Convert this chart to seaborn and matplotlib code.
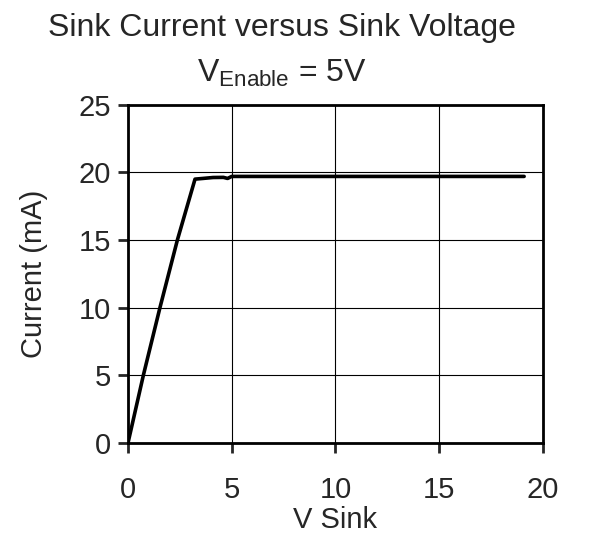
import pandas as pd
import seaborn as sns
import matplotlib.pyplot as plt

# Values
v_sink = [0, 0.74, 1.54, 2.38, 3.23, 3.6, 4.1, 4.6, 4.8, 5.0, 19.1]
current_ma = [0, 5, 10, 15, 19.5, 19.55, 19.62, 19.63, 19.55, 19.7, 19.7]
x_ticks = [0, 5, 10, 15, 20]
y_ticks = [0, 5, 10, 15, 20, 25]

df = pd.DataFrame({'V Sink': v_sink, 'Current (mA)': current_ma})

sns.set_style('white')
plt.rcParams['font.family'] = ['Liberation Sans', 'DejaVu Sans']
plt.rcParams['mathtext.fontset'] = 'custom'
plt.rcParams['mathtext.rm'] = 'Liberation Sans'

fs = 21
fig = plt.figure(figsize=(5.9, 5.4), dpi=100)
ax = fig.add_axes([0.217, 0.180, 0.703, 0.626])

sns.lineplot(data=df, x='V Sink', y='Current (mA)', color='black',
             linewidth=2.6, sort=False, ax=ax)

ax.set_xlim(0, 20)
ax.set_ylim(0, 25)
ax.set_xticks(x_ticks)
ax.set_yticks(y_ticks)
ax.grid(True, color='black', linewidth=0.8)
for s in ax.spines.values():
    s.set_color('black')
    s.set_linewidth(2)
ax.tick_params(axis='x', direction='out', length=7, width=2, pad=17,
               labelsize=fs, bottom=True)
ax.tick_params(axis='y', direction='out', length=7, width=2, pad=5,
               labelsize=fs, left=True)
ax.set_xlabel('V Sink', fontsize=fs, labelpad=1)
ax.set_ylabel('Current (mA)', fontsize=fs, labelpad=22)

fig.text(0.478, 0.933, 'Sink Current versus Sink Voltage', ha='center',
         va='baseline', fontsize=23)
fig.text(0.478, 0.848, r'V$_{\mathrm{Enable}}$ = 5V', ha='center',
         va='baseline', fontsize=23)

fig.savefig('out.png', dpi=100)
